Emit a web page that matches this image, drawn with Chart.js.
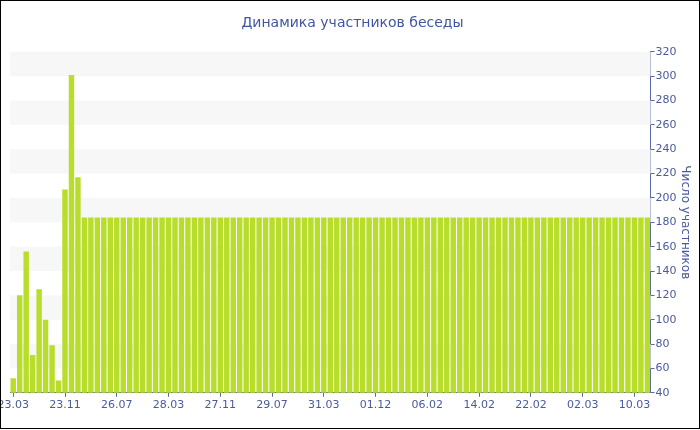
<!DOCTYPE html>
<html>
<head>
<meta charset="utf-8">
<script src="https://cdn.jsdelivr.net/npm/chart.js@4"></script>
<style>
    body { margin: 0; background: #ffffff; }
    #wrap { width: 700px; height: 430px; position: relative; }
</style>
</head>
<body>
<div id="wrap"><canvas id="grafica"></canvas></div>
<script>
// Подписи под осью X (каждая восьмая дата)
const tickLabels = ["23.03", "23.11", "26.07", "28.03", "27.11", "29.07", "31.03",
    "01.12", "06.02", "14.02", "22.02", "02.03", "10.03"];

// Число участников по дням
const members = [
    52, 120, 156, 71, 125, 100, 79, 50, 207, 301, 217,
    184, 184, 184, 184, 184, 184, 184, 184, 184, 184, 184,
    184, 184, 184, 184, 184, 184, 184, 184, 184, 184, 184,
    184, 184, 184, 184, 184, 184, 184, 184, 184, 184, 184,
    184, 184, 184, 184, 184, 184, 184, 184, 184, 184, 184,
    184, 184, 184, 184, 184, 184, 184, 184, 184, 184, 184,
    184, 184, 184, 184, 184, 184, 184, 184, 184, 184, 184,
    184, 184, 184, 184, 184, 184, 184, 184, 184, 184, 184,
    184, 184, 184, 184, 184, 184, 184, 184, 184, 184, 184
];

// Шкала Y
const yMin = 40;
const yMax = 320;

const labelStep = 8;
const categories = members.map((v, i) => i % labelStep === 0 ? tickLabels[i / labelStep] : "");

const textColor = "#4a5a9c";
const axisColor = "#5a6aa6";

// Серые полосы между линиями сетки
const bandsPlugin = {
    id: "bandsPlugin",
    beforeDatasetsDraw(chart) {
        const { ctx, chartArea } = chart;
        const y = chart.scales.y;
        ctx.save();
        ctx.fillStyle = "#f7f7f7";
        for (let v = yMin + 20; v < yMax; v += 40) {
            const top = y.getPixelForValue(v + 20);
            const bottom = y.getPixelForValue(v);
            ctx.fillRect(chartArea.left, top, chartArea.right - chartArea.left, bottom - top);
        }
        ctx.restore();
    }
};

// Рамка вокруг всей картинки
const framePlugin = {
    id: "framePlugin",
    afterDraw(chart) {
        const ctx = chart.ctx;
        ctx.save();
        ctx.strokeStyle = "#000000";
        ctx.lineWidth = 1;
        ctx.strokeRect(0.5, 0.5, chart.width - 1, chart.height - 2);
        ctx.restore();
    }
};

new Chart(document.getElementById("grafica"), {
    type: "bar",
    data: {
        labels: categories,
        datasets: [{
            data: members,
            backgroundColor: "#b8de2b",
            borderWidth: 0,
            barPercentage: 0.84,
            categoryPercentage: 1
        }]
    },
    options: {
        responsive: true,
        maintainAspectRatio: false,
        animation: false,
        layout: {
            padding: { left: 10, right: 5, top: 7, bottom: 16 }
        },
        plugins: {
            legend: { display: false },
            tooltip: { enabled: false },
            title: {
                display: true,
                text: "Динамика участников беседы",
                color: "#4056a4",
                font: { family: "DejaVu Sans", size: 14, weight: "normal" },
                padding: { top: 8, bottom: 20 }
            }
        },
        scales: {
            x: {
                offset: true,
                grid: {
                    offset: false,
                    drawOnChartArea: false,
                    tickLength: 4,
                    color: axisColor,
                    tickColor: (c) => categories[c.index] ? axisColor : "rgba(0,0,0,0)"
                },
                border: { color: axisColor, width: 1 },
                ticks: {
                    autoSkip: false,
                    maxRotation: 0,
                    minRotation: 0,
                    color: textColor,
                    padding: 2,
                    font: { family: "DejaVu Sans", size: 11 }
                },
                afterFit(scale) {
                    scale.paddingLeft = 0;
                    scale.paddingRight = 0;
                }
            },
            y: {
                position: "right",
                min: yMin,
                max: yMax,
                grid: {
                    drawOnChartArea: false,
                    tickLength: 4,
                    color: axisColor
                },
                border: { color: axisColor, width: 1 },
                ticks: {
                    stepSize: 10,
                    color: textColor,
                    padding: 1,
                    font: { family: "DejaVu Sans", size: 11 },
                    callback: (v) => v % 20 === 0 ? v : ""
                },
                title: {
                    display: true,
                    text: "Число участников",
                    color: textColor,
                    font: { family: "DejaVu Sans", size: 12 },
                    padding: { top: 3, bottom: 0 }
                }
            }
        }
    },
    plugins: [bandsPlugin, framePlugin]
});
</script>
</body>
</html>
